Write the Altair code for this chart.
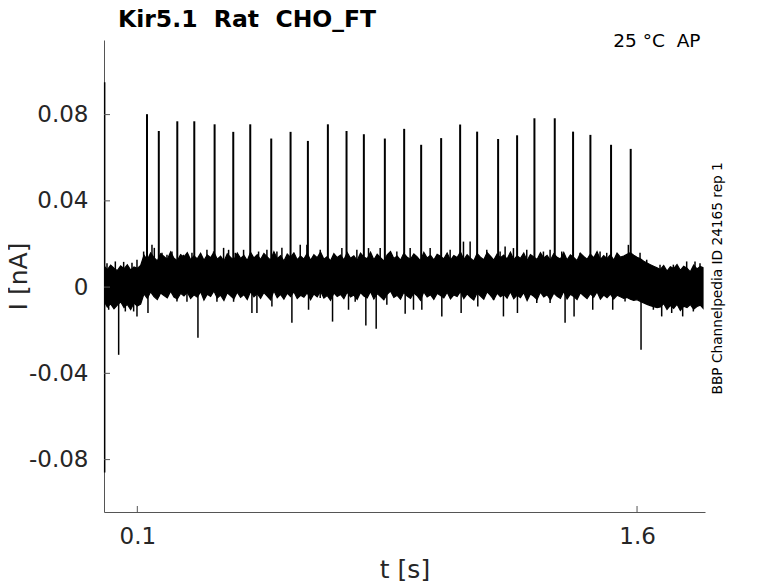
import altair as alt
import pandas as pd

# ---------------- data ----------------
NB = "\u00a0"
title_text = ["Kir5.1" + NB * 2 + "Rat" + NB * 2 + "CHO_FT"]
temp_text = ["25 °C" + NB * 2 + "AP"]
side_text = ["BBP Channelpedia ID 24165 rep 1"]

x_ticks = [0.1, 1.6]
y_ticks = [-0.08, -0.04, 0, 0.04, 0.08]

# action-potential-like current spikes (time s, peak nA)
spike_t = [0.129, 0.1645, 0.220, 0.271, 0.332, 0.388, 0.439, 0.502, 0.560,
           0.612, 0.672, 0.728, 0.780, 0.843, 0.901, 0.952, 1.012, 1.069,
           1.120, 1.183, 1.240, 1.292, 1.353, 1.408, 1.460, 1.522, 1.581]
spike_peak = [0.0802, 0.0724, 0.0769, 0.0769, 0.0755, 0.0720, 0.0755, 0.0689,
              0.0720, 0.0678, 0.0755, 0.0724, 0.0709, 0.0689, 0.0734, 0.0660,
              0.0691, 0.0754, 0.0721, 0.0687, 0.0704, 0.0783, 0.0783, 0.0721,
              0.0706, 0.0660, 0.0641]

# initial capacitive transient
trans_t = [0.002]
trans_lo = [-0.086]
trans_hi = [0.095]

# dense noise band: sampled upper / lower edge of the trace
core_t = [0.002, 0.01, 0.02, 0.03, 0.04, 0.05, 0.06, 0.07, 0.08, 0.09,
          0.10, 0.11, 0.12, 0.13, 0.14, 0.15, 0.16, 0.17, 0.18, 0.19,
          0.20, 0.21, 0.22, 0.23, 0.24, 0.25, 0.26, 0.27, 0.28, 0.29,
          0.30, 0.31, 0.32, 0.33, 0.34, 0.35, 0.36, 0.37, 0.38, 0.39,
          0.40, 0.41, 0.42, 0.43, 0.44, 0.45, 0.46, 0.47, 0.48, 0.49,
          0.50, 0.51, 0.52, 0.53, 0.54, 0.55, 0.56, 0.57, 0.58, 0.59,
          0.60, 0.61, 0.62, 0.63, 0.64, 0.65, 0.66, 0.67, 0.68, 0.69,
          0.70, 0.71, 0.72, 0.73, 0.74, 0.75, 0.76, 0.77, 0.78, 0.79,
          0.80, 0.81, 0.82, 0.83, 0.84, 0.85, 0.86, 0.87, 0.88, 0.89,
          0.90, 0.91, 0.92, 0.93, 0.94, 0.95, 0.96, 0.97, 0.98, 0.99,
          1.00, 1.01, 1.02, 1.03, 1.04, 1.05, 1.06, 1.07, 1.08, 1.09,
          1.10, 1.11, 1.12, 1.13, 1.14, 1.15, 1.16, 1.17, 1.18, 1.19,
          1.20, 1.21, 1.22, 1.23, 1.24, 1.25, 1.26, 1.27, 1.28, 1.29,
          1.30, 1.31, 1.32, 1.33, 1.34, 1.35, 1.36, 1.37, 1.38, 1.39,
          1.40, 1.41, 1.42, 1.43, 1.44, 1.45, 1.46, 1.47, 1.48, 1.49,
          1.50, 1.51, 1.52, 1.53, 1.54, 1.55, 1.56, 1.57, 1.58, 1.59,
          1.60, 1.61, 1.62, 1.63, 1.64, 1.65, 1.66, 1.67, 1.68, 1.69,
          1.70, 1.71, 1.72, 1.73, 1.74, 1.75, 1.76, 1.77, 1.78, 1.79,
          1.798]
core_hi = [
    # before stimulus (0.002 - 0.11)
    0.0095, 0.0080, 0.0102, 0.0088, 0.0076, 0.0098, 0.0085, 0.0104, 0.0079, 0.0093,
    0.0087, 0.0100,
    # during stimulus (0.12 - 1.59)
    0.0148, 0.0126, 0.0159, 0.0137, 0.0121, 0.0155, 0.0142, 0.0128, 0.0163, 0.0134,
    0.0122, 0.0151, 0.0139, 0.0160, 0.0127, 0.0145, 0.0131, 0.0157, 0.0124, 0.0149,
    0.0136, 0.0162, 0.0129, 0.0143, 0.0120, 0.0154, 0.0138, 0.0126, 0.0158, 0.0133,
    0.0147, 0.0123, 0.0161, 0.0135, 0.0150, 0.0128, 0.0156, 0.0140, 0.0125, 0.0164,
    0.0132, 0.0146, 0.0121, 0.0153, 0.0138, 0.0159, 0.0127, 0.0144, 0.0130, 0.0157,
    0.0124, 0.0150, 0.0136, 0.0163, 0.0129, 0.0141, 0.0122, 0.0155, 0.0137, 0.0148,
    0.0126, 0.0160, 0.0134, 0.0145, 0.0123, 0.0158, 0.0139, 0.0131, 0.0162, 0.0127,
    0.0152, 0.0136, 0.0121, 0.0149, 0.0165, 0.0133, 0.0144, 0.0125, 0.0157, 0.0138,
    0.0129, 0.0154, 0.0140, 0.0122, 0.0161, 0.0135, 0.0147, 0.0126, 0.0152, 0.0143,
    0.0131, 0.0158, 0.0124, 0.0146, 0.0137, 0.0163, 0.0128, 0.0150, 0.0134, 0.0121,
    0.0156, 0.0139, 0.0127, 0.0160, 0.0143, 0.0125, 0.0153, 0.0136, 0.0148, 0.0130,
    0.0162, 0.0127, 0.0145, 0.0133, 0.0158, 0.0122, 0.0151, 0.0140, 0.0128, 0.0159,
    0.0135, 0.0147, 0.0124, 0.0155, 0.0138, 0.0130, 0.0161, 0.0126, 0.0149, 0.0137,
    0.0123, 0.0157, 0.0142, 0.0129, 0.0153, 0.0136, 0.0164, 0.0127, 0.0146, 0.0132,
    0.0150, 0.0125, 0.0158, 0.0139, 0.0144, 0.0152, 0.0160, 0.0148,
    # decay (1.60 - 1.66)
    0.0138, 0.0131, 0.0120, 0.0112, 0.0104, 0.0096, 0.0090,
    # after stimulus (1.67 - 1.798)
    0.0082, 0.0100, 0.0074, 0.0094, 0.0086, 0.0105, 0.0078, 0.0097, 0.0088, 0.0071,
    0.0102, 0.0084, 0.0096, 0.0090]
core_lo = [
    -0.0070, -0.0092, -0.0078, -0.0101, -0.0083, -0.0068, -0.0095, -0.0080, -0.0104, -0.0074,
    -0.0088, -0.0079,
    -0.0031, -0.0052, -0.0022, -0.0044, -0.0058, -0.0027, -0.0039, -0.0050, -0.0019, -0.0046,
    -0.0055, -0.0029, -0.0041, -0.0024, -0.0053, -0.0036, -0.0047, -0.0021, -0.0060, -0.0033,
    -0.0043, -0.0018, -0.0051, -0.0037, -0.0062, -0.0026, -0.0040, -0.0054, -0.0023, -0.0048,
    -0.0035, -0.0057, -0.0020, -0.0045, -0.0030, -0.0052, -0.0025, -0.0042, -0.0059, -0.0017,
    -0.0049, -0.0034, -0.0056, -0.0028, -0.0044, -0.0021, -0.0053, -0.0038, -0.0047, -0.0026,
    -0.0058, -0.0032, -0.0045, -0.0019, -0.0051, -0.0039, -0.0061, -0.0027, -0.0043, -0.0034,
    -0.0054, -0.0023, -0.0046, -0.0037, -0.0057, -0.0025, -0.0041, -0.0050, -0.0020, -0.0055,
    -0.0030, -0.0044, -0.0059, -0.0033, -0.0018, -0.0048, -0.0038, -0.0056, -0.0024, -0.0042,
    -0.0052, -0.0027, -0.0040, -0.0061, -0.0022, -0.0045, -0.0035, -0.0057, -0.0029, -0.0039,
    -0.0050, -0.0024, -0.0055, -0.0036, -0.0043, -0.0020, -0.0053, -0.0031, -0.0047, -0.0060,
    -0.0026, -0.0041, -0.0056, -0.0022, -0.0038, -0.0058, -0.0028, -0.0045, -0.0034, -0.0051,
    -0.0021, -0.0054, -0.0037, -0.0049, -0.0025, -0.0062, -0.0032, -0.0043, -0.0057, -0.0023,
    -0.0046, -0.0035, -0.0059, -0.0028, -0.0042, -0.0052, -0.0019, -0.0055, -0.0033, -0.0044,
    -0.0058, -0.0026, -0.0040, -0.0053, -0.0030, -0.0047, -0.0021, -0.0056, -0.0037, -0.0049,
    -0.0032, -0.0055, -0.0038, -0.0045, -0.0052, -0.0048, -0.0056, -0.0062,
    -0.0058, -0.0066, -0.0073, -0.0080, -0.0086, -0.0091, -0.0095,
    -0.0092, -0.0076, -0.0104, -0.0085, -0.0099, -0.0079, -0.0108, -0.0088, -0.0095, -0.0081,
    -0.0102, -0.0090, -0.0084, -0.0098]

# upward noise excursions
up_t = [0.009, 0.034, 0.059, 0.084, 0.099,
        0.119, 0.144, 0.151, 0.174, 0.189, 0.204, 0.239, 0.264, 0.309, 0.329,
        0.359, 0.374, 0.394, 0.419, 0.464, 0.489, 0.519, 0.534, 0.589,
        0.609, 0.649, 0.714, 0.759, 0.794, 0.829, 0.879, 0.919, 0.979, 1.039,
        1.079, 1.099, 1.149, 1.189,
        1.204, 1.229, 1.269, 1.319, 1.339, 1.374, 1.429, 1.489, 1.509, 1.574,
        1.609, 1.629, 1.669, 1.709, 1.749, 1.774, 1.789]
up_v = [0.0111, 0.0119, 0.0117, 0.0113, 0.0127,
        0.0165, 0.0196, 0.0182, 0.0159, 0.0150, 0.0165, 0.0150, 0.0159, 0.0173,
        0.0165, 0.0182, 0.0173, 0.0159, 0.0173, 0.0165, 0.0173, 0.0165, 0.0182,
        0.0196,
        0.0196, 0.0173, 0.0181, 0.0173, 0.0181, 0.0181, 0.0165, 0.0181, 0.0181,
        0.0173, 0.0211, 0.0211, 0.0173, 0.0165,
        0.0188, 0.0181, 0.0173, 0.0165, 0.0173, 0.0165, 0.0159, 0.0165, 0.0159,
        0.0196, 0.0159, 0.0127, 0.0104, 0.0104, 0.0119, 0.0119, 0.0111]

# downward noise excursions
dn_t = [0.014, 0.044, 0.064, 0.089, 0.099,
        0.132, 0.164, 0.219, 0.249, 0.282, 0.339, 0.389, 0.444, 0.459, 0.504,
        0.564,
        0.614, 0.649, 0.686, 0.734, 0.754, 0.786, 0.817, 0.849, 0.904, 0.929,
        0.954, 1.014, 1.072, 1.122, 1.169, 1.199,
        1.241, 1.299, 1.339, 1.384, 1.411, 1.467, 1.527, 1.564, 1.612, 1.649,
        1.674, 1.704, 1.737, 1.769, 1.794]
dn_v = [-0.0105, -0.0314, -0.0113, -0.0113, -0.0136,
        -0.0120, -0.0044, -0.0067, -0.0068, -0.0235, -0.0068, -0.0068, -0.0120,
        -0.0120, -0.0090, -0.0165,
        -0.0105, -0.0051, -0.0160, -0.0105, -0.0068, -0.0178, -0.0193, -0.0082,
        -0.0124, -0.0105, -0.0105, -0.0136, -0.0120, -0.0090, -0.0059, -0.0136,
        -0.0120, -0.0074, -0.0074, -0.0165, -0.0136, -0.0105, -0.0105, -0.0067,
        -0.0290, -0.0105, -0.0136, -0.0120, -0.0136, -0.0113, -0.0090]

assert len(core_t) == len(core_hi) == len(core_lo)
assert len(up_t) == len(up_v) and len(dn_t) == len(dn_v)
assert len(spike_t) == len(spike_peak)

# ---------------- tables ----------------
core_df = pd.DataFrame({"t": core_t, "lo": core_lo, "hi": core_hi})
spike_df = pd.DataFrame({"t": spike_t, "lo": [0.0] * len(spike_t), "hi": spike_peak})
trans_df = pd.DataFrame({"t": trans_t, "lo": trans_lo, "hi": trans_hi})
whisk_df = pd.DataFrame({"t": up_t + dn_t,
                         "lo": [0.0] * (len(up_t) + len(dn_t)),
                         "hi": up_v + dn_v})
ytick_df = pd.DataFrame({"v": y_ticks})
xtick_df = pd.DataFrame({"v": x_ticks})

W, H = 601, 472
AX = "#555555"
TXT = "#262626"
FONT = "DejaVu Sans"

xscale = alt.Scale(domain=[0, 1.804], nice=False, zero=False)
yscale = alt.Scale(domain=[-0.1043, 0.1146], nice=False, zero=False)

xaxis = alt.Axis(values=x_ticks, labelExpr="'' + datum.value", labelFont=FONT,
                 labelFontSize=23, labelColor=TXT, labelPadding=13, ticks=False,
                 tickSize=0, domainColor=AX, domainWidth=1, grid=False,
                 labelFlush=False, title="t [s]", titleFont=FONT, titleFontSize=25,
                 titleFontWeight="normal", titleColor=TXT, titleX=W / 2, titleY=65,
                 titleBaseline="alphabetic", titleAlign="center")
yaxis = alt.Axis(values=y_ticks, labelExpr="'' + datum.value", labelFont=FONT,
                 labelFontSize=23, labelColor=TXT, labelPadding=16, ticks=False,
                 tickSize=0, domainColor=AX, domainWidth=1, grid=False,
                 labelFlush=False, title="I [nA]", titleFont=FONT, titleFontSize=25,
                 titleFontWeight="normal", titleColor=TXT, titleX=-78, titleY=H / 2,
                 titleAngle=270, titleBaseline="alphabetic", titleAlign="center")


def X(field):
    return alt.X(field, type="quantitative", scale=xscale, axis=xaxis)


def Y(field):
    return alt.Y(field, type="quantitative", scale=yscale, axis=yaxis)


core = alt.Chart(core_df).mark_area(color="black", stroke="black", strokeWidth=1.2).encode(
    x=X("t"), y=Y("lo"), y2="hi")
whisk = alt.Chart(whisk_df).mark_rule(color="black", strokeWidth=1.5).encode(
    x=X("t"), y=Y("lo"), y2="hi")
spikes = alt.Chart(spike_df).mark_rule(color="black", strokeWidth=2).encode(
    x=X("t"), y=Y("lo"), y2="hi")
trans = alt.Chart(trans_df).mark_rule(color="black", strokeWidth=1.5).encode(
    x=X("t"), y=Y("lo"), y2="hi")

yt = alt.Chart(ytick_df).mark_rule(color=AX, strokeWidth=1).encode(
    y=Y("v"), x=alt.value(0), x2=alt.value(6))
xt = alt.Chart(xtick_df).mark_rule(color=AX, strokeWidth=1).encode(
    x=X("v"), y=alt.value(H), y2=alt.value(H - 6))

title = alt.Chart(pd.DataFrame({"s": title_text})).mark_text(
    font=FONT, fontSize=23.5, fontWeight="bold", color="black", align="left",
    baseline="alphabetic").encode(text="s:N", x=alt.value(14), y=alt.value(-13.3))
temp = alt.Chart(pd.DataFrame({"s": temp_text})).mark_text(
    font=FONT, fontSize=18.5, color="black", align="right",
    baseline="alphabetic").encode(text="s:N", x=alt.value(596.5), y=alt.value(7.3))
side = alt.Chart(pd.DataFrame({"s": side_text})).mark_text(
    font=FONT, fontSize=13.7, color="black", align="center", angle=270,
    baseline="alphabetic").encode(text="s:N", x=alt.value(617.7), y=alt.value(238.3))

chart = alt.layer(core, whisk, spikes, trans, yt, xt, title, temp, side).properties(
    width=W, height=H,
    autosize=alt.AutoSizeParams(type="none"),
    padding={"left": 96, "top": 32, "right": 40, "bottom": 70},
).configure_view(stroke=None).configure_axis(grid=False)

chart.save("out.html", embed_options={"renderer": "svg", "actions": False})
